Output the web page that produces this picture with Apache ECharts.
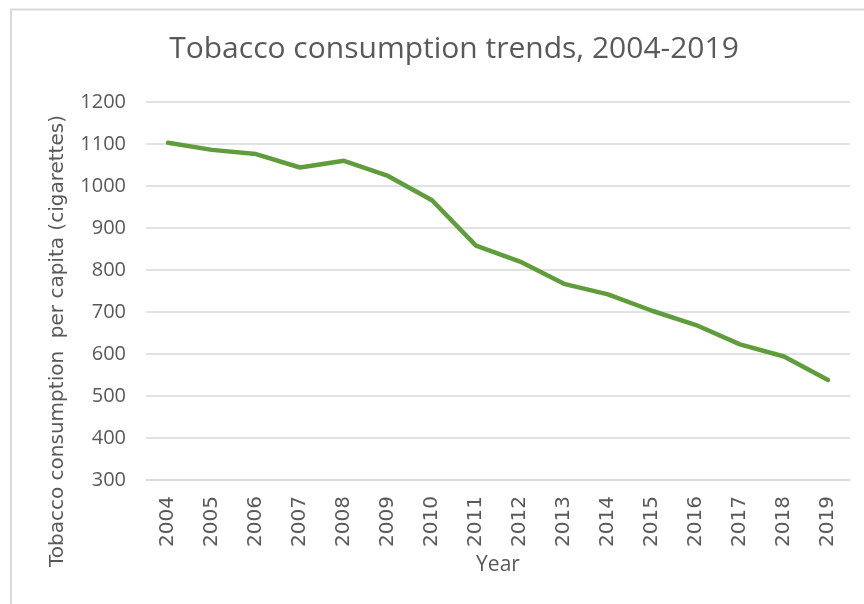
<!DOCTYPE html>
<html>
<head>
<meta charset="utf-8">
<script src="https://cdn.jsdelivr.net/npm/echarts@6/dist/echarts.min.js"></script>
<style>html,body{margin:0;padding:0;background:#fff}#c{width:864px;height:604px}</style>
</head>
<body>
<div id="c"></div>
<script>
const titleText = 'Tobacco consumption trends, 2004-2019';
const years = ['2004','2005','2006','2007','2008','2009','2010','2011','2012','2013','2014','2015','2016','2017','2018','2019'];
const consumption = [1103, 1086, 1076, 1044, 1060, 1024, 966, 858, 820, 767, 742, 703, 669, 623, 594, 538];
const yAxisTitle = 'Tobacco consumption  per capita (cigarettes)';
const xAxisTitle = 'Year';
const yMin = 300, yMax = 1200, yStep = 100;

const chart = echarts.init(document.getElementById('c'));
chart.setOption({
  backgroundColor: '#fff',
  animation: false,
  title: {
    text: titleText,
    left: 449, top: 29, textAlign: 'center',
    textStyle: { fontFamily: 'Open Sans', fontSize: 30, fontWeight: 'normal', color: '#595959' }
  },
  graphic: [
    { type: 'rect', shape: { x: 11, y: 9.5, width: 900, height: 700 }, style: { fill: 'none', stroke: '#d9d9d9', lineWidth: 2 }, silent: true },
    { type: 'text', x: 58, y: 341, rotation: Math.PI / 2,
      style: { text: yAxisTitle, fontFamily: 'DejaVu Sans', fontSize: 20, fill: '#595959', align: 'center', verticalAlign: 'middle' } }
  ],
  grid: { left: 146, right: 14, top: 102, bottom: 124 },
  xAxis: {
    type: 'category', data: years, boundaryGap: true,
    axisTick: { show: false },
    axisLine: { show: true, lineStyle: { color: '#d9d9d9', width: 1.5 } },
    axisLabel: { rotate: 90, margin: 16, fontFamily: 'DejaVu Sans', fontSize: 20, color: '#595959' },
    name: xAxisTitle, nameLocation: 'middle', nameGap: 74,
    nameTextStyle: { fontFamily: 'Open Sans', fontSize: 21, color: '#595959' }
  },
  yAxis: {
    type: 'value', min: yMin, max: yMax, interval: yStep,
    axisLine: { show: false }, axisTick: { show: false },
    axisLabel: { margin: 20, fontFamily: 'Open Sans', fontSize: 20, color: '#595959', formatter: v => String(v) },
    splitLine: { lineStyle: { color: '#d9d9d9', width: 1.5 } }
  },
  series: [{
    type: 'line', data: consumption, symbol: 'none',
    lineStyle: { color: '#5f9c3c', width: 4.5, cap: 'round', join: 'round' }
  }]
});
</script>
</body>
</html>
